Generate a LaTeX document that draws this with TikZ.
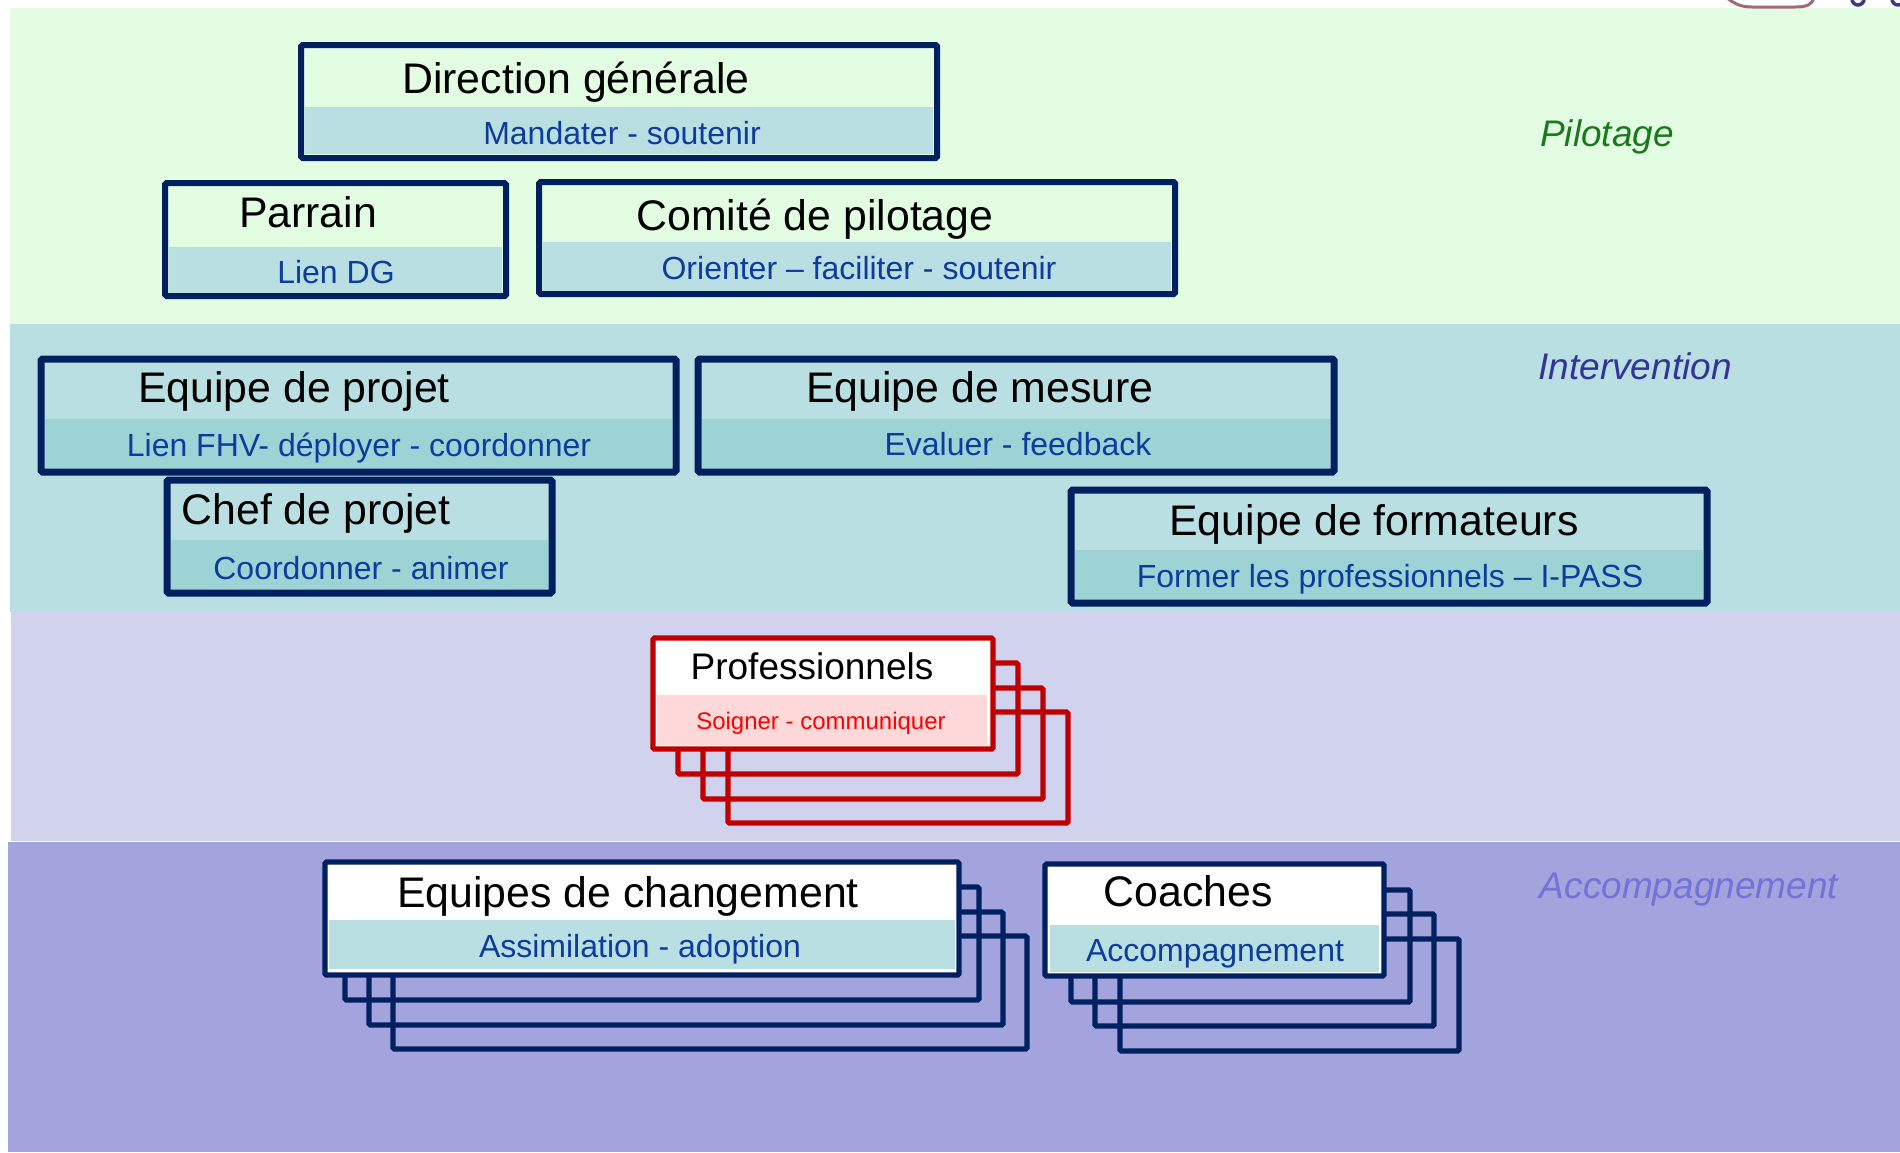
\documentclass[tikz,border=0pt]{standalone}
\usepackage{fontspec}
\setmainfont{Liberation Sans}
\definecolor{bgGreen}{HTML}{E3FDE3}
\definecolor{bgTeal}{HTML}{B9DFE2}
\definecolor{bandTeal}{HTML}{9ED3D6}
\definecolor{bgLav}{HTML}{D0D2EE}
\definecolor{bgPeri}{HTML}{A3A3DE}
\definecolor{navy}{HTML}{002060}
\definecolor{subBlue}{HTML}{0D3B9E}
\definecolor{pilGreen}{HTML}{1A7A1A}
\definecolor{intBlue}{HTML}{333399}
\definecolor{accBlue}{HTML}{7272D8}
\definecolor{redB}{HTML}{C00000}
\definecolor{pinkBand}{HTML}{FFD9D9}
\definecolor{redT}{HTML}{FF0000}
\definecolor{logoMauve}{HTML}{A06878}
\definecolor{logoNavy}{HTML}{3A3A88}
\begin{document}
\begin{tikzpicture}[x=1pt,y=-1pt,
  frame/.style={draw=navy,line width=6pt,rounded corners=1.5pt},
  iframe/.style={draw=navy,line width=7pt,rounded corners=1.5pt},
  sframe/.style={draw=navy,line width=5.3pt,rounded corners=1.5pt},
  rframe/.style={draw=redB,line width=5.3pt,rounded corners=1.5pt},
  title/.style={inner sep=0pt,font=\fontsize{42.8}{48}\selectfont,text height=30.5pt,text depth=0pt,text=black},
  ptitle/.style={inner sep=0pt,font=\fontsize{37}{44}\selectfont,text height=26.5pt,text depth=0pt,text=black},
  sub/.style={inner sep=0pt,font=\fontsize{32}{38}\selectfont,text height=23pt,text depth=0pt,text=subBlue},
  psub/.style={inner sep=0pt,font=\fontsize{24}{29}\selectfont,text height=17pt,text depth=0pt,text=redT},
  lvl/.style={inner sep=0pt,font=\fontsize{37}{44}\selectfont\itshape,text height=26.5pt,text depth=0pt}]
\useasboundingbox (0,0) rectangle (1900,1152);
\fill[white] (0,0) rectangle (1900,1152);
% bands
\fill[bgGreen] (10,8) rectangle (1900,324);
\fill[bgTeal] (10,324) rectangle (1900,612);
\fill[bgLav] (11,612) rectangle (1900,841);
\fill[bgPeri] (8,842) rectangle (1900,1152);
% logo fragment at top right (cut off by the page edge)
\begin{scope}
\clip (1700,0) rectangle (1900,8);
\draw[logoMauve,line width=3pt] (1727,-2) .. controls (1735,4) and (1741,7) .. (1752,7) -- (1795,7) .. controls (1808,7) and (1812,4) .. (1814,-2);
\draw[logoNavy,line width=3.5pt] (1858,-1) circle[radius=6];
\draw[logoNavy,line width=3.5pt] (1898,-1) circle[radius=6];
\end{scope}
% ---------- Pilotage ----------
\fill[bgGreen] (301,45) rectangle (937,158);
\fill[bgTeal] (305,107) rectangle (933,154);
\draw[frame] (301,45) rectangle (937,158);
\node[title] (dg) at (576,78) {Direction générale};
\node[sub] (dgs) at (622,133) {Mandater - soutenir};

\fill[bgGreen] (165,183) rectangle (506,296);
\fill[bgTeal] (169,247) rectangle (502,293);
\draw[frame] (165,183) rectangle (506,296);
\node[title] (par) at (308,212) {Parrain};
\node[sub] (pars) at (336,272) {Lien DG};

\fill[bgGreen] (539,182) rectangle (1175,294);
\fill[bgTeal] (543,242) rectangle (1171,291);
\draw[frame] (539,182) rectangle (1175,294);
\node[title] (cp) at (815,215) {Comité de pilotage};
\node[sub] (cps) at (859,268) {Orienter – faciliter - soutenir};

\node[lvl,text=pilGreen] (pil) at (1607,133) {Pilotage};
% ---------- Intervention ----------
\fill[bandTeal] (45,419) rectangle (672,469);
\draw[iframe] (41,359) rectangle (676,472);
\node[title] (ep) at (294,387) {Equipe de projet};
\node[sub] (eps) at (359,445) {Lien FHV- déployer - coordonner};

\fill[bandTeal] (702,419) rectangle (1330,469);
\draw[iframe] (698,359) rectangle (1334,472);
\node[title] (em) at (980,387) {Equipe de mesure};
\node[sub] (ems) at (1018,444) {Evaluer - feedback};

\fill[bandTeal] (171,540) rectangle (548,590);
\draw[iframe] (167,480) rectangle (552,593);
\node[title] (chef) at (316,509) {Chef de projet};
\node[sub] (chefs) at (361,568) {Coordonner - animer};

\fill[bandTeal] (1075,550) rectangle (1703,600);
\draw[iframe] (1071,490) rectangle (1707,603);
\node[title] (ef) at (1374,520) {Equipe de formateurs};
\node[sub] (efs) at (1390,576) {Former les professionnels – I-PASS};

\node[lvl,text=intBlue] (int) at (1635,366) {Intervention};
% ---------- Professionnels ----------
\draw[rframe] (728,712) rectangle (1068,823);
\draw[rframe] (703,688) rectangle (1043,799);
\draw[rframe] (678,663) rectangle (1018,774);
\fill[white] (653,638) rectangle (993,749);
\fill[pinkBand] (657,695) rectangle (987,745);
\draw[rframe] (653,638) rectangle (993,749);
\node[ptitle] (pro) at (812,666) {Professionnels};
\node[psub] (pros) at (821,721) {Soigner - communiquer};
% ---------- Accompagnement ----------
\draw[sframe] (393,936) rectangle (1027,1049);
\draw[sframe] (369,912) rectangle (1003,1025);
\draw[sframe] (345,887) rectangle (979,1000);
\fill[white] (325,862) rectangle (959,975);
\fill[bgTeal] (329,920) rectangle (955,969);
\draw[sframe] (325,862) rectangle (959,975);
\node[title] (ec) at (628,892) {Equipes de changement};
\node[sub] (ecs) at (640,946) {Assimilation - adoption};

\draw[sframe] (1120,939) rectangle (1459,1051);
\draw[sframe] (1095,914) rectangle (1434,1026);
\draw[sframe] (1071,890) rectangle (1410,1002);
\fill[white] (1045,864) rectangle (1384,976);
\fill[bgTeal] (1050,925) rectangle (1379,972);
\draw[sframe] (1045,864) rectangle (1384,976);
\node[title] (co) at (1188,891) {Coaches};
\node[sub] (cos) at (1215,950) {Accompagnement};

\node[lvl,text=accBlue] (acc) at (1689,885) {Accompagnement};
\end{tikzpicture}
\end{document}
